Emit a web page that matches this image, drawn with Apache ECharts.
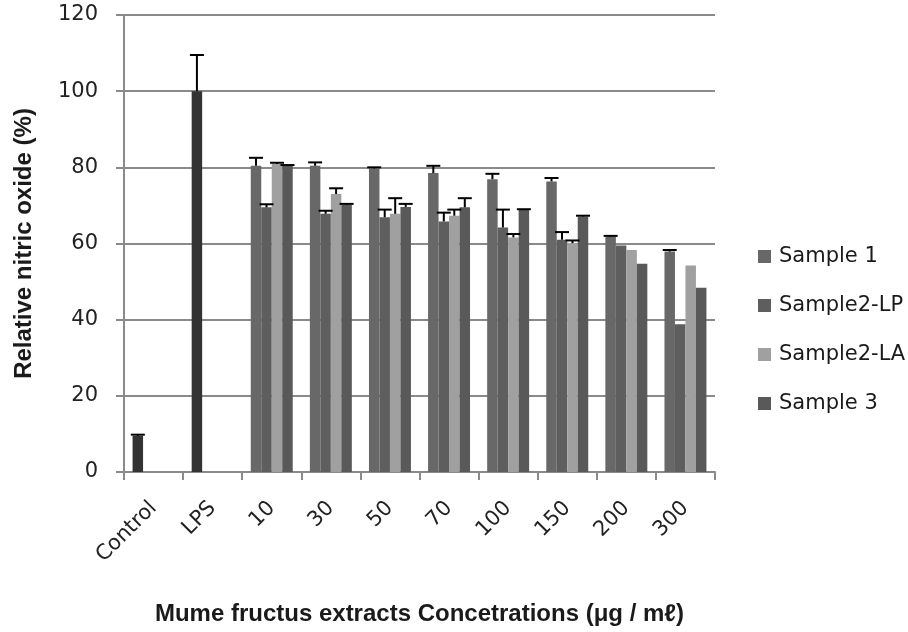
<!DOCTYPE html>
<html>
<head>
<meta charset="utf-8">
<script src="https://cdn.jsdelivr.net/npm/echarts@6/dist/echarts.min.js"></script>
<style>html,body{margin:0;padding:0;background:#fff;}#chart{width:908px;height:632px;}</style>
</head>
<body>
<div id="chart"></div>
<script>
const categories = ['Control', 'LPS', '10', '30', '50', '70', '100', '150', '200', '300'];
const seriesNames = ['Sample 1', 'Sample2-LP', 'Sample2-LA', 'Sample 3'];
// Control and LPS reference bars (drawn in first slot)
const referenceValues = [9.5, 100];
const referenceErrors = [0.3, 9.5];
// concentration groups: 10, 30, 50, 70, 100, 150, 200, 300
const sample1 = [80.4, 80.4, 79.7, 78.5, 76.9, 76.3, 61.8, 57.9];
const sample1Err = [2.1, 0.9, 0.3, 1.9, 1.4, 0.9, 0.2, 0.4];
const sample2LP = [69.5, 67.8, 66.9, 65.8, 64.2, 61.0, 59.5, 38.8];
const sample2LPErr = [0.8, 0.8, 2.0, 2.3, 4.7, 2.0, null, null];
const sample2LA = [80.9, 73.0, 67.8, 67.3, 61.6, 60.1, 58.3, 54.2];
const sample2LAErr = [0.3, 1.5, 4.1, 1.6, 0.9, 0.7, null, null];
const sample3 = [80.4, 70.1, 69.6, 69.5, 68.8, 67.1, 54.7, 48.4];
const sample3Err = [0.2, 0.3, 0.8, 2.4, 0.2, 0.2, null, null];
const yTicks = { min: 0, max: 120, interval: 20 };

const colors = ['#686868', '#5e5e5e', '#a0a0a0', '#595959'];
const refColor = '#333333';
const catGap = 0.29;

const groupValues = [sample1, sample2LP, sample2LA, sample3];
const groupErrors = [sample1Err, sample2LPErr, sample2LAErr, sample3Err];

const barSeries = seriesNames.map(function (name, s) {
  const data = [];
  for (let i = 0; i < categories.length; i++) {
    if (i < referenceValues.length) {
      if (s === 0) data.push({ value: referenceValues[i], itemStyle: { color: refColor } });
      else data.push(null);
    } else {
      data.push(groupValues[s][i - referenceValues.length]);
    }
  }
  return {
    name: name, type: 'bar', data: data,
    barGap: '0%', barCategoryGap: (catGap * 100) + '%',
    itemStyle: { color: colors[s] },
    emphasis: { disabled: true }
  };
});

const errData = [];
for (let i = 0; i < referenceValues.length; i++) {
  errData.push([i, referenceValues[i], referenceErrors[i], 0]);
}
for (let s = 0; s < 4; s++) {
  for (let j = 0; j < groupValues[s].length; j++) {
    const e = groupErrors[s][j];
    if (e !== null && e !== undefined) {
      errData.push([j + referenceValues.length, groupValues[s][j], e, s]);
    }
  }
}

const errSeries = {
  type: 'custom', name: 'err', z: 5,
  data: errData,
  encode: { x: 0, y: 1 },
  renderItem: function (params, api) {
    const cat = api.value(0), val = api.value(1), err = api.value(2), slot = api.value(3);
    const base = api.coord([cat, val]);
    const top = api.coord([cat, val + err]);
    const band = api.size([1, 0])[0];
    const barW = band * (1 - catGap) / 4;
    const x = base[0] + (slot - 1.5) * barW;
    const half = 7;
    const st = { stroke: '#000', lineWidth: 2 };
    return {
      type: 'group',
      children: [
        { type: 'line', shape: { x1: x, y1: base[1], x2: x, y2: top[1] }, style: st },
        { type: 'line', shape: { x1: x - half, y1: top[1], x2: x + half, y2: top[1] }, style: st }
      ]
    };
  }
};

const chart = echarts.init(document.getElementById('chart'));
chart.setOption({
  animation: false,
  backgroundColor: '#ffffff',
  grid: { left: 124, right: 193, top: 15, bottom: 160, containLabel: false },
  legend: {
    orient: 'vertical', left: 753, top: 241,
    data: seriesNames,
    icon: 'rect', itemWidth: 13, itemHeight: 13, itemGap: 28,
    textStyle: { fontFamily: 'DejaVu Sans', fontSize: 21, color: '#1a1a1a', padding: [0, 0, 0, 3] },
    selectedMode: false
  },
  xAxis: {
    type: 'category', data: categories,
    axisLine: { lineStyle: { color: '#8a8a8a', width: 2 } },
    axisTick: { show: true, length: 8, lineStyle: { color: '#8a8a8a', width: 2 } },
    axisLabel: { rotate: 45, margin: 33, fontFamily: 'DejaVu Sans', fontSize: 21, color: '#222', interval: 0 },
    name: 'Mume fructus extracts Concetrations (μg / mℓ)',
    nameLocation: 'middle', nameGap: 130,
    nameTextStyle: { fontFamily: 'Liberation Sans', fontWeight: 'bold', fontSize: 24, color: '#1a1a1a' }
  },
  yAxis: {
    type: 'value', min: yTicks.min, max: yTicks.max, interval: yTicks.interval,
    axisLine: { show: true, lineStyle: { color: '#8a8a8a', width: 2 } },
    axisTick: { show: true, length: 8, lineStyle: { color: '#8a8a8a', width: 2 } },
    splitLine: { lineStyle: { color: '#8a8a8a', width: 2 } },
    axisLabel: { margin: 26, fontFamily: 'DejaVu Sans', fontSize: 21, color: '#222' },
    name: 'Relative nitric oxide (%)',
    nameLocation: 'middle', nameGap: 88, nameRotate: 90,
    nameTextStyle: { fontFamily: 'Liberation Sans', fontWeight: 'bold', fontSize: 24, color: '#1a1a1a' }
  },
  series: barSeries.concat([errSeries])
});
</script>
</body>
</html>
